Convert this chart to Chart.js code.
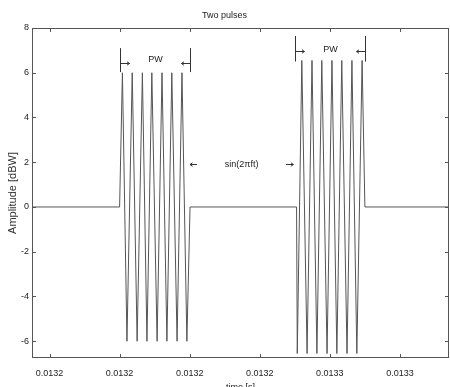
<!DOCTYPE html>
<html>
<head>
<meta charset="utf-8">
<script src="https://cdn.jsdelivr.net/npm/chart.js@4"></script>
<style>
  html, body { margin: 0; padding: 0; background: #fff; }
</style>
</head>
<body>
<canvas id="chart" width="450" height="387"></canvas>
<script>
// time in microseconds
const timeUs = [
  13175, 13200.0,
  13200.8, 13202.1, 13203.6, 13205.0, 13206.5, 13207.8, 13209.2,
  13210.7, 13212.1, 13213.5, 13214.9, 13216.4, 13217.8, 13219.2,
  13220.1, 13250.5,
  13250.7, 13252.0, 13253.5, 13254.9, 13256.3, 13257.7, 13259.2,
  13260.6, 13262.0, 13263.4, 13264.9, 13266.3, 13267.7, 13269.2,
  13270.0, 13294
];
const amplitude = [
  0, 0,
  6, -6, 6, -6, 6, -6, 6,
  -6, 6, -6, 6, -6, 6, -6,
  0, 0,
  -6.55, 6.55, -6.55, 6.55, -6.55, 6.55, -6.55,
  6.55, -6.55, 6.55, -6.55, 6.55, -6.55, 6.55,
  0, 0
];
const xTickValues = [13180, 13200, 13220, 13240, 13260, 13280];
const xTickLabels = ['0.0132', '0.0132', '0.0132', '0.0132', '0.0133', '0.0133'];
const yTickValues = [-6, -4, -2, 0, 2, 4, 6, 8];

// PW markers, one entry per pulse
const pwStart = [13200.0, 13250.0];
const pwEnd = [13220.1, 13270.0];
const pwLow = [6.03, 6.5];
const pwHigh = [7.1, 7.64];
const pwArrowY = [6.45, 6.99];
const pwTextY = [6.57, 7.06];

const FONT = "'Liberation Sans', Arial, sans-serif";

function arrow(ctx, x0, y0, x1, y1) {
  const ang = Math.atan2(y1 - y0, x1 - x0);
  ctx.beginPath();
  ctx.moveTo(x0, y0);
  ctx.lineTo(x1, y1);
  ctx.moveTo(x1, y1);
  ctx.lineTo(x1 - 3 * Math.cos(ang - 0.6), y1 - 3 * Math.sin(ang - 0.6));
  ctx.moveTo(x1, y1);
  ctx.lineTo(x1 - 3 * Math.cos(ang + 0.6), y1 - 3 * Math.sin(ang + 0.6));
  ctx.stroke();
}

const frame = {
  id: 'frame',
  afterDraw(chart) {
    const { ctx, chartArea: a, scales: { x, y } } = chart;
    ctx.save();
    ctx.strokeStyle = '#555';
    ctx.lineWidth = 1;
    ctx.strokeRect(a.left + 0.5, a.top + 0.5, a.right - a.left - 1, a.bottom - a.top - 1);

    // inward ticks on all four sides
    ctx.beginPath();
    xTickValues.forEach(v => {
      const px = Math.round(x.getPixelForValue(v)) + 0.5;
      ctx.moveTo(px, a.top); ctx.lineTo(px, a.top + 4);
      ctx.moveTo(px, a.bottom); ctx.lineTo(px, a.bottom - 4);
    });
    yTickValues.forEach(v => {
      const py = Math.round(y.getPixelForValue(v)) + 0.5;
      ctx.moveTo(a.left, py); ctx.lineTo(a.left + 4, py);
      ctx.moveTo(a.right, py); ctx.lineTo(a.right - 4, py);
    });
    ctx.stroke();

    // PW brackets
    ctx.strokeStyle = '#333';
    ctx.fillStyle = '#222';
    ctx.font = '9px ' + FONT;
    ctx.textAlign = 'center';
    ctx.textBaseline = 'middle';
    for (let i = 0; i < pwStart.length; i++) {
      const x0 = Math.round(x.getPixelForValue(pwStart[i])) + 0.5;
      const x1 = Math.round(x.getPixelForValue(pwEnd[i])) + 0.5;
      const yl = y.getPixelForValue(pwLow[i]);
      const yh = y.getPixelForValue(pwHigh[i]);
      const ya = Math.round(y.getPixelForValue(pwArrowY[i])) + 0.5;
      ctx.beginPath();
      ctx.moveTo(x0, yl); ctx.lineTo(x0, yh);
      ctx.moveTo(x1, yl); ctx.lineTo(x1, yh);
      ctx.stroke();
      arrow(ctx, x0, ya, x0 + 9, ya);
      arrow(ctx, x1, ya, x1 - 9, ya);
      ctx.fillText('PW', (x0 + x1) / 2, y.getPixelForValue(pwTextY[i]));
    }

    // carrier label between the pulses
    const ys = Math.round(y.getPixelForValue(1.92)) + 0.5;
    ctx.fillText('sin(2\u03c0ft)', x.getPixelForValue(13234.8), ys);
    arrow(ctx, x.getPixelForValue(13222.1), ys, x.getPixelForValue(13220.1), ys);
    arrow(ctx, x.getPixelForValue(13247.5), ys, x.getPixelForValue(13249.6), ys);
    ctx.restore();
  }
};

new Chart(document.getElementById('chart'), {
  type: 'line',
  data: {
    datasets: [{
      data: timeUs.map((t, i) => ({ x: t, y: amplitude[i] })),
      borderColor: '#555',
      borderWidth: 1,
      pointRadius: 0,
      tension: 0,
      fill: false
    }]
  },
  options: {
    responsive: false,
    animation: false,
    devicePixelRatio: 1,
    layout: { padding: { left: 0, right: 1, top: 0, bottom: 0 } },
    plugins: {
      legend: { display: false },
      tooltip: { enabled: false },
      title: {
        display: true,
        text: 'Two pulses',
        color: '#222',
        font: { family: FONT, size: 9, weight: 'normal' },
        padding: { top: 10, bottom: 7.2 }
      }
    },
    scales: {
      x: {
        type: 'linear',
        min: 13175,
        max: 13294,
        afterBuildTicks: s => { s.ticks = xTickValues.map(v => ({ value: v })); },
        afterFit: s => { s.height = 29; },
        grid: { display: false, drawTicks: false },
        border: { display: false },
        ticks: {
          padding: 10,
          maxRotation: 0,
          color: '#222',
          font: { family: FONT, size: 9 },
          callback: (v, i) => xTickLabels[i]
        },
        title: {
          display: true,
          text: 'time [s]',
          color: '#222',
          font: { family: FONT, size: 9 },
          padding: { top: 0, bottom: -6 }
        }
      },
      y: {
        min: -6.75,
        max: 8,
        afterBuildTicks: s => { s.ticks = yTickValues.map(v => ({ value: v })); },
        afterFit: s => { s.width = 32; },
        grid: { display: false, drawTicks: false },
        border: { display: false },
        ticks: {
          padding: 3,
          color: '#222',
          font: { family: FONT, size: 9 }
        },
        title: {
          display: true,
          text: 'Amplitude [dBW]',
          color: '#333',
          font: { family: FONT, size: 11 },
          padding: { top: 6, bottom: 0 }
        }
      }
    }
  },
  plugins: [frame]
});
</script>
</body>
</html>
